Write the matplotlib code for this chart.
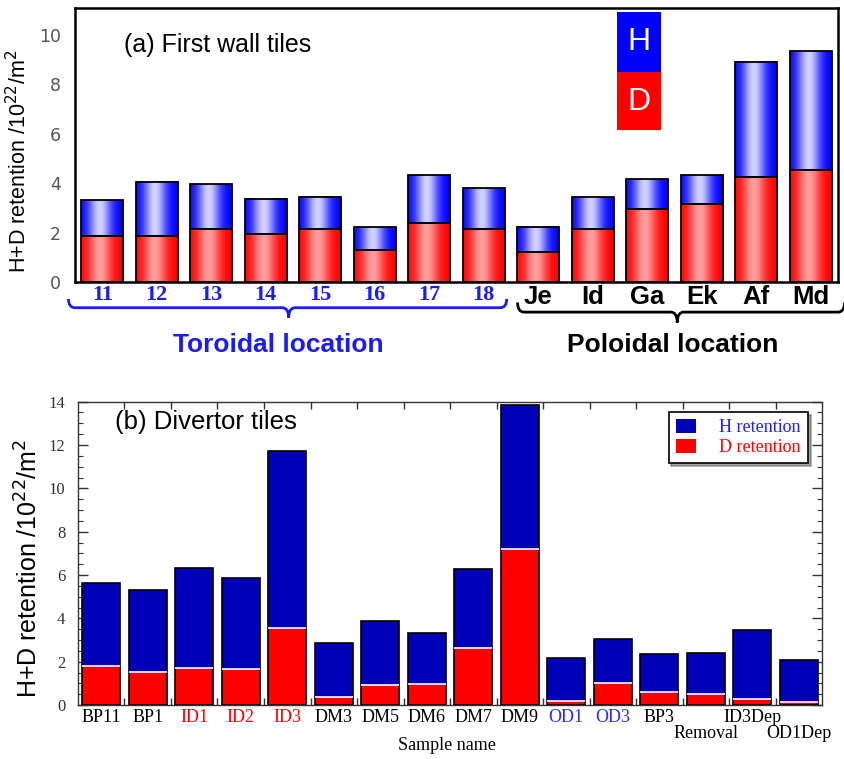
import numpy as np
import matplotlib
matplotlib.use("Agg")
import matplotlib.pyplot as plt
import matplotlib.transforms as mtransforms
from matplotlib.path import Path
from matplotlib.patches import PathPatch, Rectangle, Patch

# ---- (a) first wall tiles ----
wall_labels = ['11', '12', '13', '14', '15', '16', '17', '18',
               'Je', 'Id', 'Ga', 'Ek', 'Af', 'Md']
wall_d = [1.86, 1.86, 2.16, 1.93, 2.16, 1.31, 2.39, 2.16,
          1.21, 2.15, 2.96, 3.17, 4.24, 4.52]
wall_total = [3.31, 4.05, 3.97, 3.38, 3.46, 2.23, 4.32, 3.82,
              2.23, 3.44, 4.16, 4.32, 8.92, 9.34]

# ---- (b) divertor tiles ----
div_labels = ['BP11', 'BP1', 'ID1', 'ID2', 'ID3', 'DM3', 'DM5', 'DM6',
              'DM7', 'DM9', 'OD1', 'OD3', 'BP3', 'Removal', 'ID3Dep', 'OD1Dep']
div_d = [1.80, 1.51, 1.72, 1.66, 3.57, 0.38, 0.92, 0.95,
         2.65, 7.20, 0.20, 1.03, 0.62, 0.49, 0.26, 0.15]
div_total = [5.62, 5.31, 6.31, 5.85, 11.72, 2.85, 3.88, 3.31,
             6.26, 13.85, 2.18, 3.03, 2.35, 2.42, 3.46, 2.08]
div_label_colors = ['black', 'black', 'red', 'red', 'red', 'black', 'black', 'black',
                    'black', 'black', '#2b2bff', '#2b2bff', 'black', 'black', 'black', 'black']
div_label_low = [False] * 13 + [True, False, True]

wall_h = np.array(wall_total) - np.array(wall_d)
div_h = np.array(div_total) - np.array(div_d)

fig = plt.figure(figsize=(8.44, 7.59), dpi=100)
ax1 = fig.add_axes([0.0889, 0.6285, 0.904, 0.361])
ax2 = fig.add_axes([0.0924, 0.0711, 0.8816, 0.3997])


def gradient_fill(ax, patches, base, light):
    """Fill each bar with a horizontal shaded gradient (dark edges, light centre)."""
    t = np.linspace(0, 1, 200)
    f = np.exp(-((t - 0.45) / 0.27) ** 2)
    base = np.array(base)
    light = np.array(light)
    grad = base[None, :] * (1 - f[:, None]) + light[None, :] * f[:, None]
    for p in patches:
        x0, y0 = p.get_x(), p.get_y()
        w, h = p.get_width(), p.get_height()
        ax.imshow(grad[None, :, :], extent=[x0, x0 + w, y0, y0 + h],
                  aspect='auto', interpolation='bilinear', zorder=2)
        p.set_facecolor('none')
        p.set_zorder(3)


# ---------------- panel (a) ----------------
x1 = np.arange(len(wall_labels))
bw1 = 0.77
bars_d = ax1.bar(x1, wall_d, bw1, edgecolor='black', linewidth=1.3)
bars_h = ax1.bar(x1, wall_h, bw1, bottom=wall_d, edgecolor='black', linewidth=1.3)
gradient_fill(ax1, bars_d, (1.0, 0.0, 0.0), (1.0, 0.62, 0.62))
gradient_fill(ax1, bars_h, (0.0, 0.0, 1.0), (0.82, 0.82, 1.0))
ax1.set_xlim(-0.5, len(wall_labels) - 0.5)
ax1.set_ylim(0, 11.1)
ax1.set_yticks([0, 2, 4, 6, 8, 10])
ax1.tick_params(axis='y', length=0, pad=10, labelsize=12.5, labelcolor='#555555')
ax1.tick_params(axis='x', length=0, pad=2)
ax1.set_xticks(x1)
ax1.set_xticklabels(wall_labels)
for i, lab in enumerate(ax1.get_xticklabels()):
    if i < 8:
        lab.set_fontfamily('Liberation Serif')
        lab.set_fontweight('bold')
        lab.set_fontsize(16)
        lab.set_color('#1a1aff')
    else:
        lab.set_fontfamily('Liberation Sans')
        lab.set_fontweight('bold')
        lab.set_fontsize(18.5)
        lab.set_color('black')
for s in ax1.spines.values():
    s.set_linewidth(1.8)
ax1.set_ylabel(r'H+D retention /10$^{22}$/m$^{2}$', fontsize=15.5,
               fontfamily='Liberation Sans')
ax1.yaxis.set_label_coords(-0.057, 0.44)
ax1.text(0.064, 0.865, '(a) First wall tiles', transform=ax1.transAxes,
         fontsize=18, fontfamily='Liberation Sans', va='center', ha='left')

# H / D colour key
ax1.add_patch(Rectangle((0.710, 0.766), 0.058, 0.219, transform=ax1.transAxes,
                        facecolor='#0000ff', edgecolor='none', zorder=5))
ax1.add_patch(Rectangle((0.710, 0.555), 0.058, 0.211, transform=ax1.transAxes,
                        facecolor='#ff0000', edgecolor='none', zorder=5))
ax1.text(0.739, 0.876, 'H', transform=ax1.transAxes, color='white', fontsize=23,
         ha='center', va='center', fontfamily='Liberation Sans', zorder=6)
ax1.text(0.739, 0.655, 'D', transform=ax1.transAxes, color='white', fontsize=23,
         ha='center', va='center', fontfamily='Liberation Sans', zorder=6)


def brace(ax, xa, xb, xm, y_end, y_line, y_tip, color, lw=2.0):
    """Curly brace below the axis: x in data units, y in axes units."""
    tr = mtransforms.blended_transform_factory(ax.transData, ax.transAxes)
    r = 0.12
    verts = [(xa, y_end), (xa, y_line), (xa + r, y_line),
             (xm - r, y_line), (xm, y_line), (xm, y_tip),
             (xm, y_line), (xm + r, y_line),
             (xb - r, y_line), (xb, y_line), (xb, y_end)]
    codes = [Path.MOVETO, Path.CURVE3, Path.CURVE3,
             Path.LINETO, Path.CURVE3, Path.CURVE3,
             Path.CURVE3, Path.CURVE3,
             Path.LINETO, Path.CURVE3, Path.CURVE3]
    ax.add_patch(PathPatch(Path(verts, codes), transform=tr, facecolor='none',
                           edgecolor=color, linewidth=lw, clip_on=False))


brace(ax1, -0.62, 7.42, 3.42, -0.062, -0.094, -0.13, '#1a1aff')
brace(ax1, 7.62, 13.62, 10.55, -0.075, -0.11, -0.148, 'black')
tr1 = mtransforms.blended_transform_factory(ax1.transData, ax1.transAxes)
ax1.text(3.23, -0.23, 'Toroidal location', transform=tr1, color='#1a1aff',
         fontsize=19, fontweight='bold', fontfamily='Liberation Sans',
         ha='center', va='center')
ax1.text(10.47, -0.23, 'Poloidal location', transform=tr1, color='black',
         fontsize=19, fontweight='bold', fontfamily='Liberation Sans',
         ha='center', va='center')

# ---------------- panel (b) ----------------
x2 = np.arange(len(div_labels))
bw2 = 0.81
ax2.bar(x2, div_d, bw2, color='#ff0000', edgecolor='none', zorder=2)
ax2.bar(x2, div_h, bw2, bottom=div_d, color='#0000b8', edgecolor='none', zorder=2)
ax2.bar(x2, div_total, bw2, facecolor='none', edgecolor='black', linewidth=1.2, zorder=3)
ax2.hlines(div_d, x2 - bw2 / 2, x2 + bw2 / 2, color='white', linewidth=1.2, zorder=3)
ax2.set_xlim(-0.5, len(div_labels) - 0.5)
ax2.set_ylim(0, 14)
ax2.set_yticks(np.arange(0, 15, 2))
ax2.set_yticks(np.arange(0, 14.01, 0.5), minor=True)
ax2.set_xticks(np.arange(0.5, len(div_labels) - 0.5, 1.0))
ax2.set_xticklabels([])
ax2.tick_params(axis='both', which='both', direction='in', top=True, right=True,
                color='#333333')
ax2.tick_params(axis='y', which='major', length=7, width=1.0, pad=9)
ax2.tick_params(axis='y', which='minor', length=3.5, width=0.8)
ax2.tick_params(axis='x', which='major', length=5, width=1.0)
for lab in ax2.get_yticklabels():
    lab.set_fontfamily('Liberation Serif')
    lab.set_fontsize(12)
    lab.set_color('#333333')
for s in ax2.spines.values():
    s.set_linewidth(1.0)
    s.set_color('#333333')

tr2 = mtransforms.blended_transform_factory(ax2.transData, ax2.transAxes)
for xi, lab, col, low in zip(x2, div_labels, div_label_colors, div_label_low):
    ax2.text(xi, -0.065 if low else -0.012, lab, transform=tr2, color=col,
             fontsize=13, fontfamily='Liberation Serif', ha='center', va='top')

ax2.set_xlabel('Sample name', fontsize=13, fontfamily='Liberation Serif')
ax2.xaxis.set_label_coords(0.496, -0.105)
ax2.set_ylabel(r'H+D retention /10$^{22}$/m$^{2}$', fontsize=18,
               fontfamily='Liberation Sans')
ax2.yaxis.set_label_coords(-0.048, 0.45)
ax2.text(0.05, 0.933, '(b) Divertor tiles', transform=ax2.transAxes,
         fontsize=18.5, fontfamily='Liberation Sans', va='center', ha='left')

handles = [Patch(facecolor='#0000b8', edgecolor='none'),
           Patch(facecolor='#ff0000', edgecolor='none')]
leg = ax2.legend(handles, ['H retention', 'D retention'], loc='upper right',
                 bbox_to_anchor=(0.981, 0.966), borderaxespad=0,
                 prop={'family': 'Liberation Serif', 'size': 13},
                 labelcolor=['#2020ff', '#ff0000'], fancybox=False, shadow=True,
                 handlelength=1.1, handleheight=0.8, handletextpad=1.3,
                 borderpad=0.4, labelspacing=0.15, framealpha=1)
leg.get_frame().set_edgecolor('black')
leg.get_frame().set_linewidth(1.2)

fig.savefig('out.png', dpi=100)
